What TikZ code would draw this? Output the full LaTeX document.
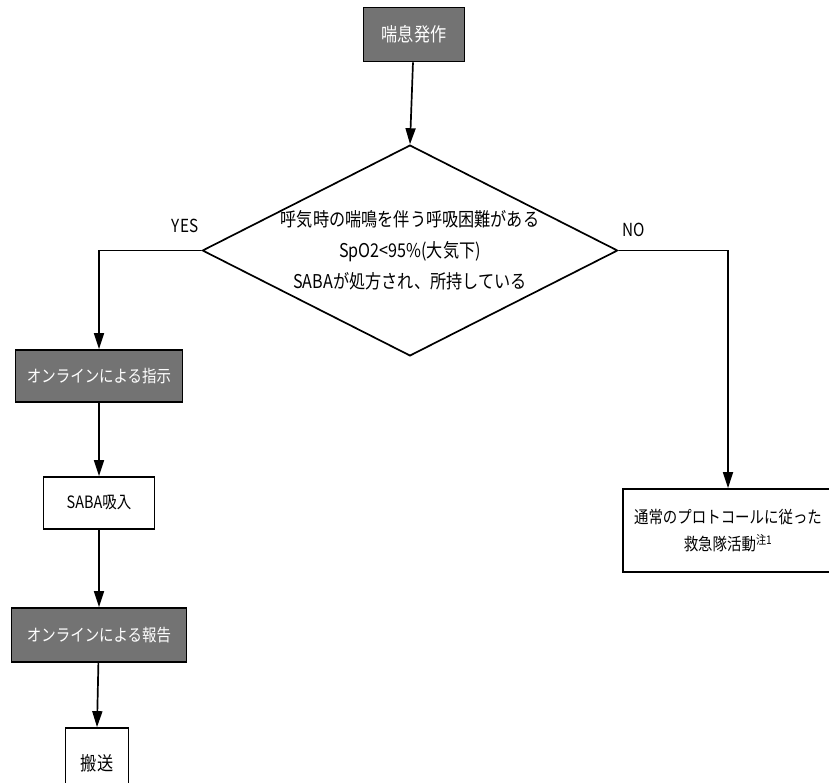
\documentclass[tikz,border=0pt]{standalone}
\usepackage{fontspec}
\setmainfont[FakeStretch=0.85]{Noto Sans CJK JP}
\usetikzlibrary{shapes.geometric,arrows.meta}
\begin{document}
\begin{tikzpicture}[x=1pt,y=-1pt,
  line width=1.7pt,
  arr/.style={-{Triangle[length=16pt,width=10pt]}},
  plainbox/.style={draw,fill=white,inner sep=0pt,align=center,font=\fontsize{17}{18}\selectfont},
  darkbox/.style={draw,fill=black!55,text=white,inner sep=0pt,align=center,font=\fontsize{17}{18}\selectfont},
  lbl/.style={font=\fontsize{18}{18}\selectfont}]
\useasboundingbox (0,0) rectangle (829,783);
\clip (0,0) rectangle (829,783);
\node[darkbox,minimum width=101pt,minimum height=54pt,font=\fontsize{19}{20}\selectfont] (start) at (414,34.5) {喘息発作};
\node[draw,diamond,aspect=1.97,inner sep=0pt,minimum width=408pt,minimum height=207pt,
      align=center,font=\fontsize{19}{31}\selectfont] (d) at (410,250.5)
      {呼気時の喘鳴を伴う呼吸困難がある\\SpO2<95\%(大気下)\\SABAが処方され、所持している};
\node[darkbox,minimum width=167pt,minimum height=52pt] (b1) at (99,376) {オンラインによる指示};
\node[plainbox,minimum width=111pt,minimum height=52pt] (b2) at (99,503) {SABA吸入};
\node[darkbox,minimum width=175pt,minimum height=54pt] (b3) at (99,635) {オンラインによる報告};
\node[plainbox,minimum width=63pt,minimum height=70pt,font=\fontsize{19}{20}\selectfont] (b4) at (97,763) {搬送};
\node[plainbox,minimum width=210pt,minimum height=83pt,font=\fontsize{17}{27}\selectfont] (r) at (728,530.5)
      {通常のプロトコールに従った\\救急隊活動\textsuperscript{注1}};
\node[lbl] (yes) at (185,226) {YES};
\node[lbl] (no) at (634,230) {NO};
\draw[arr] (start) -- (d.north);
\draw[arr] (d.west) -| (b1.north);
\draw[arr] (b1) -- (b2);
\draw[arr] (b2) -- (b3);
\draw[arr] (b3) -- (b4.north);
\draw[arr] (d.east) -| (r.north);
\end{tikzpicture}
\end{document}
